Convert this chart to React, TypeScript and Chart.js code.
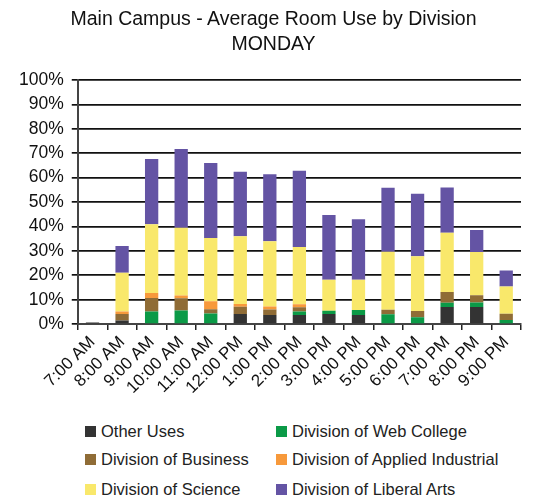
import React, { useEffect, useRef } from "react";
import { Chart, registerables } from "chart.js";

Chart.register(...registerables);

const categories = ["7:00 AM", "8:00 AM", "9:00 AM", "10:00 AM", "11:00 AM", "12:00 PM", "1:00 PM", "2:00 PM", "3:00 PM", "4:00 PM", "5:00 PM", "6:00 PM", "7:00 PM", "8:00 PM", "9:00 PM"];
const otherUses = [0.7, 1.5, 0, 0, 0, 4.1, 3.7, 3.7, 4.1, 3.7, 0, 0, 7, 7, 0];
const webCollege = [0, 0, 5.2, 5.6, 4.4, 0, 0, 1.5, 1.4, 2.1, 4, 2.8, 1.8, 1.9, 1.7];
const business = [0, 2.6, 5.5, 5, 1.7, 3, 2.3, 1.7, 0, 0, 1.9, 2.6, 4.4, 2.9, 2.6];
const appliedIndustrial = [0, 1.1, 2, 1.1, 3.3, 1.1, 1.2, 1.2, 0, 0, 0, 0, 0, 0, 0];
const science = [0, 15.8, 28.2, 27.8, 25.9, 27.8, 26.7, 23.5, 12.7, 12.4, 23.7, 22.4, 24.2, 17.7, 11.1];
const liberalArts = [0, 11, 26.7, 32.2, 30.7, 26.4, 27.5, 31.2, 26.5, 24.8, 26.3, 25.6, 18.6, 9.1, 6.6];
const yTicks = [0, 10, 20, 30, 40, 50, 60, 70, 80, 90, 100];
const titleLines = ["Main Campus - Average Room Use by Division", "MONDAY"];

const FONT = "'Liberation Sans', Arial, Helvetica, sans-serif";

const seriesList = [
  { label: "Other Uses", data: otherUses, color: "#333333" },
  { label: "Division of Web College", data: webCollege, color: "#0b9a47" },
  { label: "Division of Business", data: business, color: "#8f6c36" },
  { label: "Division of Applied Industrial", data: appliedIndustrial, color: "#f7993b" },
  { label: "Division of Science", data: science, color: "#f9e86b" },
  { label: "Division of Liberal Arts", data: liberalArts, color: "#6454a4" },
];

export default function App() {
  const ref = useRef<HTMLCanvasElement | null>(null);
  useEffect(() => {
    if (!ref.current) return;
    const chart = new Chart(ref.current, {
      type: "bar",
      data: {
        labels: categories,
        datasets: seriesList.map((s) => ({
          label: s.label,
          data: s.data,
          backgroundColor: s.color,
          borderWidth: 0,
          barPercentage: 0.9,
          categoryPercentage: 0.5,
        })),
      },
      options: {
        responsive: false,
        animation: false,
        layout: { padding: { left: 11, right: 12, top: 80, bottom: 0 } },
        plugins: {
          legend: { display: false },
          tooltip: { enabled: false },
          title: { display: false },
        },
        scales: {
          x: {
            stacked: true,
            offset: true,
            grid: {
              offset: true,
              drawOnChartArea: false,
              drawTicks: true,
              tickLength: 6,
              color: "#222",
              lineWidth: 1.5,
            },
            border: { display: true, color: "#444", width: 2 },
            ticks: {
              color: "#111",
              font: { family: FONT, size: 17 },
              maxRotation: 45,
              minRotation: 45,
              autoSkip: false,
              padding: 2,
            },
          },
          y: {
            stacked: true,
            min: 0,
            max: 100,
            afterBuildTicks: (axis: any) => {
              axis.ticks = yTicks.map((v) => ({ value: v }));
            },
            grid: {
              color: "#111",
              lineWidth: 1.7,
              drawTicks: true,
              tickLength: 6,
            },
            border: { display: true, color: "#444", width: 2 },
            ticks: {
              color: "#111",
              font: { family: FONT, size: 17.5 },
              padding: 8,
              callback: (v: any) => v + "%",
            },
          },
        },
      },
    });
    return () => chart.destroy();
  }, []);

  const rows = [
    [seriesList[0], seriesList[1]],
    [seriesList[2], seriesList[3]],
    [seriesList[4], seriesList[5]],
  ];
  const rowTops = [421, 449, 479];
  const colLefts = [85, 276];

  return (
    <div style={{ position: "absolute", left: 0, top: 0, width: 533, height: 500, background: "#fff", fontFamily: FONT }}>
      <canvas ref={ref} width={533} height={400} style={{ display: "block" }} />
      <div
        style={{
          position: "absolute",
          left: 7,
          top: 6,
          width: 533,
          textAlign: "center",
          fontSize: 19.5,
          lineHeight: "24.5px",
          color: "#111",
        }}
      >
        {titleLines.map((t) => (
          <div key={t}>{t}</div>
        ))}
      </div>
      {rows.map((row, ri) =>
        row.map((s, ci) => (
          <div
            key={s.label}
            style={{
              position: "absolute",
              top: rowTops[ri],
              left: colLefts[ci],
              height: 20,
              display: "flex",
              alignItems: "center",
              fontSize: 16.5,
              color: "#222",
              whiteSpace: "nowrap",
            }}
          >
            <span style={{ display: "inline-block", width: 11, height: 11, background: s.color, marginRight: 5 }} />
            <span>{s.label}</span>
          </div>
        ))
      )}
    </div>
  );
}
